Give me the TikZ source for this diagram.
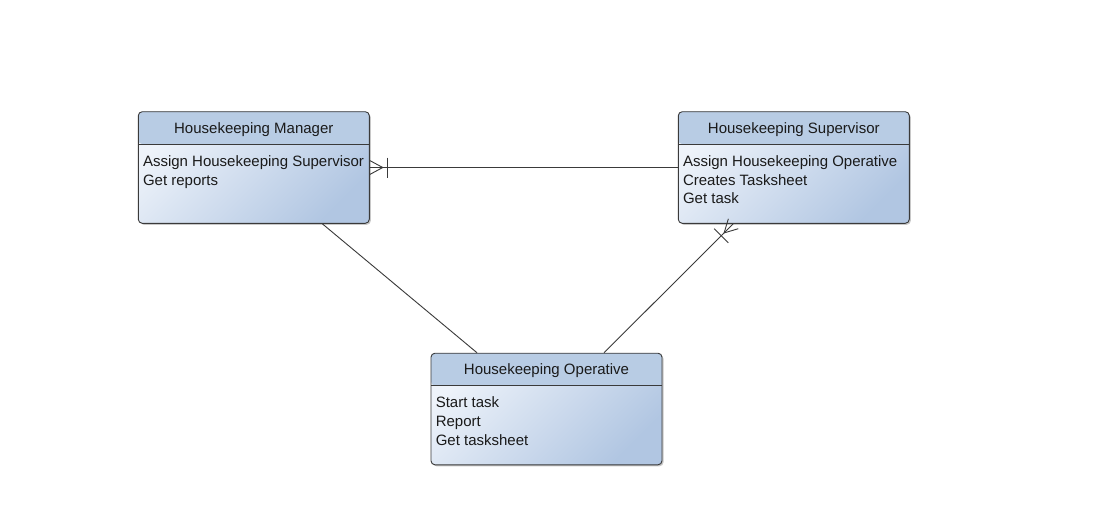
\documentclass[tikz,border=0pt]{standalone}
\usepackage{fontspec}
\setmainfont{Liberation Sans}
\usetikzlibrary{calc,shadows}
\definecolor{hdr}{HTML}{B8CCE4}
\definecolor{lite}{HTML}{EEF3FA}
\definecolor{dark}{HTML}{B1C6E2}
\definecolor{edge}{HTML}{3A3A3A}
\definecolor{txt}{HTML}{1A1A1A}
\begin{document}
\begin{tikzpicture}[x=1pt,y=-1pt,
  entity/.style={draw=edge, line width=0.9pt, rounded corners=4pt,
    minimum width=231pt, minimum height=111.6pt, inner sep=0pt,
    left color=lite, right color=dark, shading angle=45,
    drop shadow={shadow xshift=1.5pt, shadow yshift=-1.5pt, opacity=0.3, fill=black!70},
    path picture={
      \fill[hdr] (path picture bounding box.north west) rectangle ($(path picture bounding box.north east)+(0,32.3)$);
      \draw[edge, line width=0.9pt] ($(path picture bounding box.north west)+(0,32.3)$) -- ($(path picture bounding box.north east)+(0,32.3)$);
    }},
  ttl/.style={font=\fontsize{15}{17}\selectfont, text=txt, inner sep=0pt},
  body/.style={font=\fontsize{15}{18.7}\selectfont, text=txt, inner sep=0pt, align=left, anchor=north west},
  conn/.style={draw=edge, line width=0.9pt}
]
\useasboundingbox (0,0) rectangle (1107,528);
\fill[white] (0,0) rectangle (1107,528);

\node[entity] (mgr) at (253.8,167.5) {};
\node[entity] (sup) at (793.8,167.5) {};
\node[entity] (op) at (546.5,409) {};

\node[ttl] (mgrT) at ($(mgr.north)+(0,18)$) {Housekeeping Manager};
\node[ttl] (supT) at ($(sup.north)+(0,18)$) {Housekeeping Supervisor};
\node[ttl] (opT) at ($(op.north)+(0,18)$) {Housekeeping Operative};

\node[body] (mgrB) at ($(mgr.north west)+(5,44)$) {Assign Housekeeping Supervisor\\Get reports};
\node[body] (supB) at ($(sup.north west)+(5,44)$) {Assign Housekeeping Operative\\Creates Tasksheet\\Get task};
\node[body] (opB) at ($(op.north west)+(5,44)$) {Start task\\Report\\Get tasksheet};

% Manager -- Supervisor
\coordinate (e1) at (mgr.east);
\coordinate (s1) at (sup.west);
\draw[conn] (e1) -- (s1);
\draw[conn] ($(e1)!7pt!90:(s1)$) -- ($(e1)!13pt!(s1)$) -- ($(e1)!7pt!-90:(s1)$);
\coordinate (b1) at ($(e1)!18pt!(s1)$);
\draw[conn] ($(b1)!10pt!90:(s1)$) -- ($(b1)!10pt!-90:(s1)$);

% Manager -- Operative
\coordinate (e2) at ($(mgr.south)+(68.5,0)$);
\coordinate (s2) at ($(op.north)+(-69.5,0)$);
\draw[conn] (e2) -- (s2);

% Supervisor -- Operative
\coordinate (e3) at ($(sup.south)+(-60.5,0)$);
\coordinate (s3) at ($(op.north)+(57.5,0)$);
\draw[conn] (e3) -- (s3);
\draw[conn] ($(e3)!7pt!90:(s3)$) -- ($(e3)!13pt!(s3)$) -- ($(e3)!7pt!-90:(s3)$);
\coordinate (b3) at ($(e3)!17pt!(s3)$);
\draw[conn] ($(b3)!10pt!90:(s3)$) -- ($(b3)!10pt!-90:(s3)$);
\end{tikzpicture}
\end{document}
